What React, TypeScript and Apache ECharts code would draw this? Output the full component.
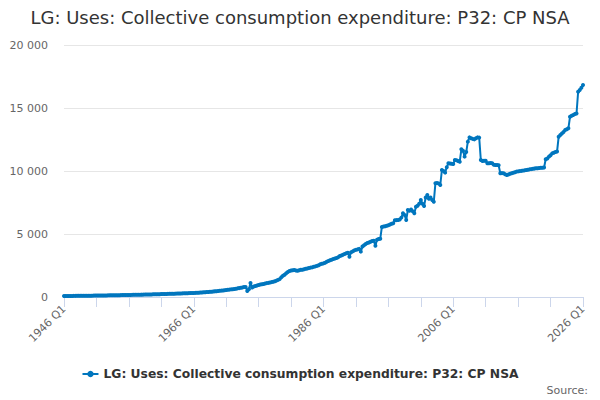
import React, { useEffect, useRef } from "react";
import * as echarts from "echarts";

const TITLE = "LG: Uses: Collective consumption expenditure: P32: CP NSA";
const SERIES_NAME = "LG: Uses: Collective consumption expenditure: P32: CP NSA";

const firstYear = 1946;
const lastYear = 2026;
const quarters = ["Q1", "Q2", "Q3", "Q4"];

// Quarterly values, one row per year (1946 ... 2025), then 2026 Q1
const v1946_1955 = [
  80, 80, 82, 84,
  85, 86, 88, 90,
  92, 93, 95, 97,
  99, 100, 102, 104,
  106, 107, 109, 111,
  114, 115, 118, 120,
  123, 124, 127, 130,
  132, 133, 136, 139,
  141, 142, 145, 148,
  151, 152, 156, 159,
];
const v1956_1965 = [
  162, 164, 168, 171,
  175, 176, 180, 184,
  187, 189, 193, 197,
  200, 202, 206, 210,
  214, 216, 221, 226,
  230, 233, 238, 243,
  247, 250, 255, 260,
  264, 267, 273, 278,
  283, 287, 293, 299,
  304, 308, 315, 321,
];
const v1966_1975 = [
  320, 328, 336, 344,
  352, 360, 370, 380,
  390, 400, 412, 424,
  436, 448, 462, 476,
  490, 505, 520, 536,
  552, 568, 586, 604,
  622, 642, 662, 684,
  706, 728, 752, 790,
  800, 480, 620, 1110,
  760, 840, 880, 920,
];
const v1976_1985 = [
  960, 990, 1010, 1040,
  1070, 1100, 1120, 1150,
  1180, 1210, 1250, 1300,
  1360, 1420, 1560, 1680,
  1760, 1880, 1980, 2060,
  2100, 2120, 2150, 2110,
  2080, 2130, 2170, 2160,
  2200, 2250, 2270, 2300,
  2330, 2350, 2400, 2430,
  2470, 2520, 2600, 2640,
];
const v1986_1995 = [
  2670, 2720, 2800, 2850,
  2910, 2950, 3020, 3050,
  3100, 3150, 3250, 3300,
  3350, 3420, 3480, 3510,
  3200, 3550, 3620, 3700,
  3740, 3780, 3820, 3600,
  4000, 4100, 4200, 4290,
  4330, 4380, 4440, 4470,
  4060, 4550, 4600, 4630,
  5560, 5600, 5620, 5660,
];
const v1996_2005 = [
  5700, 5760, 5820, 5850,
  6090, 6100, 6110, 6150,
  6300, 6640, 6500, 6110,
  6900, 6850, 6950, 6800,
  6640, 7170, 7250, 7400,
  7700, 7400, 7220, 7900,
  8100, 7800, 7900, 7700,
  7560, 9020, 9050, 9000,
  8890, 10080, 10000, 9870,
  10300, 10610, 10600, 10580,
];
const v2006_2015 = [
  10560, 10870, 10850, 10800,
  10740, 11720, 11600, 11140,
  11500, 12330, 12670, 12600,
  12550, 12510, 12600, 12670,
  12650, 10870, 10800, 10820,
  10820, 10610, 10620, 10630,
  10610, 10500, 10480, 10470,
  10450, 9820, 9830, 9820,
  9750, 9680, 9720, 9780,
  9820, 9860, 9900, 9950,
];
const v2016_2026 = [
  9970, 9990, 10010, 10030,
  10050, 10080, 10100, 10130,
  10150, 10170, 10190, 10210,
  10220, 10240, 10250, 10260,
  10280, 10930, 11000, 11140,
  11250, 11400, 11450, 11500,
  11540, 12720, 12850, 12980,
  13100, 13250, 13320, 13390,
  14310, 14380, 14450, 14520,
  14560, 16290, 16430, 16600,
  16830,
];

const values = [
  ...v1946_1955,
  ...v1956_1965,
  ...v1966_1975,
  ...v1976_1985,
  ...v1986_1995,
  ...v1996_2005,
  ...v2006_2015,
  ...v2016_2026,
];

const categories: string[] = [];
for (let y = firstYear; y <= lastYear; y++) {
  for (const q of quarters) {
    if (categories.length < values.length) categories.push(`${y} ${q}`);
  }
}

const yTicks = { min: 0, max: 20000, interval: 5000 };

function fmt(n: number) {
  return String(n).replace(/\B(?=(\d{3})+(?!\d))/g, " ");
}

export default function App() {
  const ref = useRef<HTMLDivElement>(null);
  useEffect(() => {
    document.body.style.margin = "0";
    if (!ref.current) return;
    const chart = echarts.init(ref.current, null, { renderer: "svg" });
    chart.setOption({
      animation: false,
      backgroundColor: "#ffffff",
      textStyle: { fontFamily: "DejaVu Sans" },
      title: {
        text: TITLE,
        left: "center",
        top: 3,
        textStyle: { fontSize: 18, fontWeight: "normal", color: "#333333", fontFamily: "DejaVu Sans" },
      },
      legend: {
        top: 363,
        left: "center",
        itemWidth: 16,
        itemHeight: 8,
        itemGap: 10,
        textStyle: { fontSize: 12.3, fontWeight: "bold", color: "#333333", fontFamily: "DejaVu Sans" },
        data: [SERIES_NAME],
      },
      grid: { left: 64, right: 17, top: 45, bottom: 103, containLabel: false },
      xAxis: {
        type: "category",
        data: categories,
        boundaryGap: false,
        axisLine: { lineStyle: { color: "#ccd6eb" } },
        axisTick: { interval: 19, length: 10, lineStyle: { color: "#ccd6eb" } },
        axisLabel: {
          interval: 79,
          rotate: 45,
          color: "#666666",
          fontSize: 11,
          margin: 10,
          fontFamily: "DejaVu Sans",
        },
        splitLine: { show: false },
      },
      yAxis: {
        type: "value",
        min: yTicks.min,
        max: yTicks.max,
        interval: yTicks.interval,
        axisLine: { show: false },
        axisTick: { show: false },
        axisLabel: {
          color: "#666666",
          fontSize: 11,
          margin: 16,
          fontFamily: "DejaVu Sans",
          formatter: (v: number) => fmt(v),
        },
        splitLine: { lineStyle: { color: "#e6e6e6" } },
      },
      series: [
        {
          name: SERIES_NAME,
          type: "line",
          data: values,
          symbol: "circle",
          symbolSize: 4,
          showSymbol: true,
          showAllSymbol: true,
          itemStyle: { color: "#0076be" },
          lineStyle: { width: 2, color: "#0076be" },
        },
      ],
      graphic: [
        {
          type: "text",
          right: 12,
          top: 385,
          style: { text: "Source:", fontSize: 11, fill: "#666666", fontFamily: "DejaVu Sans" },
        },
      ],
    });
    return () => chart.dispose();
  }, []);
  return <div ref={ref} style={{ width: 600, height: 400 }} />;
}
